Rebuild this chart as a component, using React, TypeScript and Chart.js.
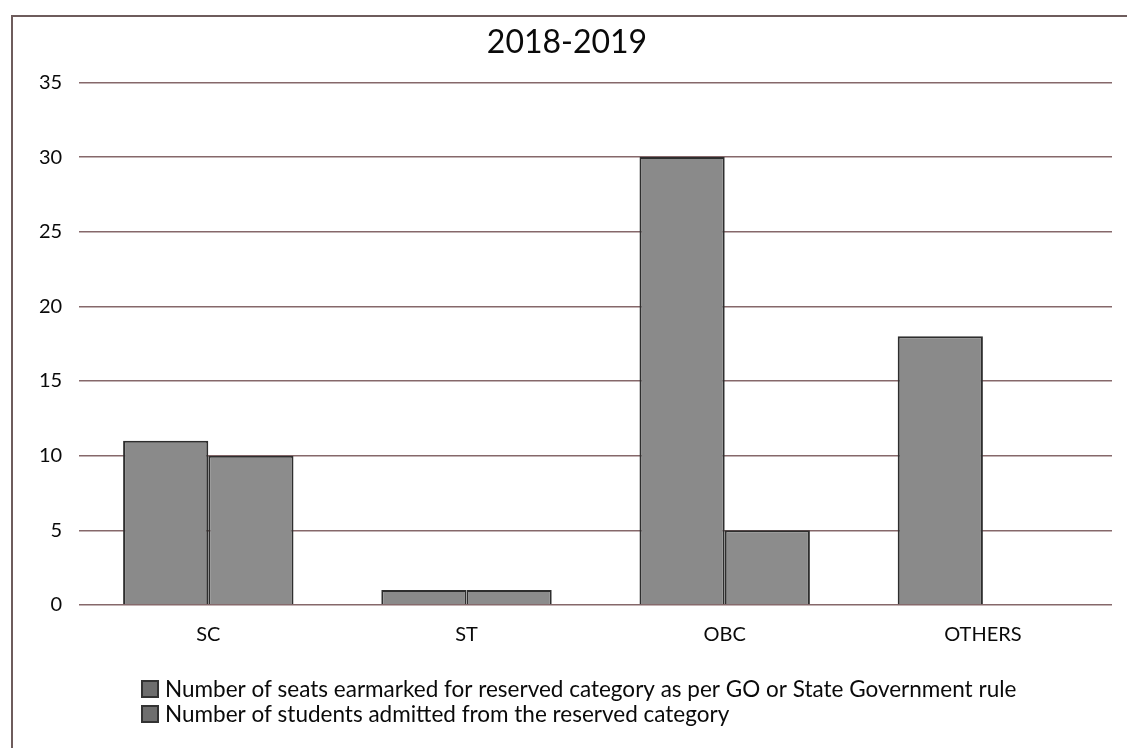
import React, { useEffect, useRef } from "react";
import { Chart, registerables } from "chart.js";

Chart.register(...registerables);

const titleText = "2018-2019";
const categories = ["SC", "ST", "OBC", "OTHERS"];
const seriesLabels = [
  "Number of seats earmarked for reserved category as per GO or State Government rule",
  "Number of students admitted from the reserved category",
];
const seatsEarmarked = [11, 1, 30, 18];
const studentsAdmitted = [10, 1, 5, 0];
const yMin = 0;
const yMax = 35;
const yStep = 5;

const FONT = "Lato, 'Open Sans', sans-serif";

const customLegend = {
  id: "customLegend",
  afterDraw(chart: any) {
    const ctx = chart.ctx as CanvasRenderingContext2D;
    const ds = chart.data.datasets;
    const x0 = 142;
    const rowY = [chart.height - 59, chart.height - 34];
    ctx.save();
    ctx.font = `22.5px ${FONT}`;
    ctx.textBaseline = "middle";
    ds.forEach((d: any, i: number) => {
      const y = rowY[i];
      ctx.fillStyle = "#6e6e6e";
      ctx.fillRect(x0, y - 8, 16, 16);
      ctx.strokeStyle = "#333";
      ctx.lineWidth = 2;
      ctx.strokeRect(x0, y - 8, 16, 16);
      ctx.fillStyle = "#0a0a0a";
      ctx.fillText(d.label, x0 + 23, y + 1);
    });
    ctx.restore();
  },
};

export default function App() {
  const canvasRef = useRef<HTMLCanvasElement | null>(null);

  useEffect(() => {
    if (!canvasRef.current) return;
    const chart = new Chart(canvasRef.current, {
      type: "bar",
      data: {
        labels: categories,
        datasets: [
          {
            label: seriesLabels[0],
            data: seatsEarmarked,
            backgroundColor: "#8a8a8a",
            borderColor: "#2e2e2e",
            borderWidth: 2,
          },
          {
            label: seriesLabels[1],
            data: studentsAdmitted,
            backgroundColor: "#8c8c8c",
            borderColor: "#2e2e2e",
            borderWidth: 2,
          },
        ],
      },
      options: {
        animation: false,
        responsive: false,
        devicePixelRatio: 1,
        layout: { padding: { top: 0, left: 22, right: 15, bottom: 91 } },
        datasets: {
          bar: { categoryPercentage: 0.66, barPercentage: 1 },
        },
        plugins: {
          legend: { display: false },
          tooltip: { enabled: false },
          title: {
            display: true,
            text: titleText,
            color: "#0a0a0a",
            font: { family: FONT, size: 32, weight: "normal" },
            padding: { top: 23, bottom: 21 },
          },
        },
        scales: {
          x: {
            grid: { display: false },
            border: { display: false },
            ticks: {
              color: "#0a0a0a",
              font: { family: FONT, size: 20 },
              padding: 10,
            },
          },
          y: {
            min: yMin,
            max: yMax,
            ticks: {
              stepSize: yStep,
              color: "#0a0a0a",
              font: { family: FONT, size: 20 },
              padding: 17,
            },
            grid: { color: "#86686a", lineWidth: 1.5, drawTicks: false },
            border: { display: false },
          },
        },
      },
      plugins: [customLegend],
    });
    return () => chart.destroy();
  }, []);

  return (
    <div style={{ position: "absolute", left: 0, top: 0, width: 1127, height: 748, background: "#fff", overflow: "hidden" }}>
      <canvas ref={canvasRef} width={1127} height={748} style={{ position: "absolute", left: 0, top: 0 }} />
      <div
        style={{
          position: "absolute",
          left: 11,
          top: 15,
          width: 1200,
          height: 800,
          borderLeft: "2px solid #6e5c5c",
          borderTop: "2px solid #6e5c5c",
          pointerEvents: "none",
        }}
      />
    </div>
  );
}
